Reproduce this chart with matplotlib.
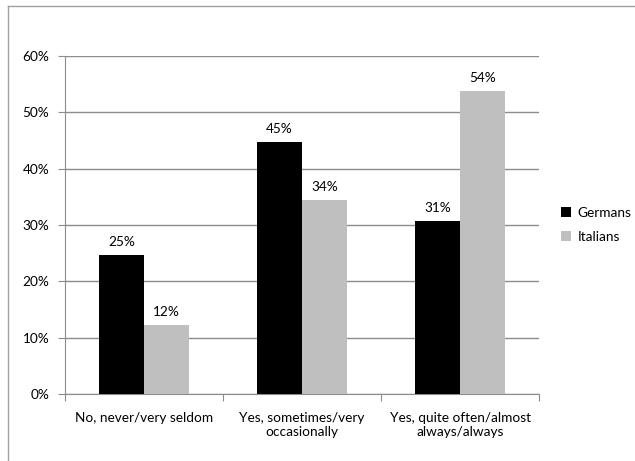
import numpy as np
import matplotlib.pyplot as plt
from matplotlib.lines import Line2D
from matplotlib.ticker import PercentFormatter

plt.rcParams['font.family'] = ['Lato', 'DejaVu Sans']

categories = ['No, never/very seldom', 'Yes, sometimes/very\noccasionally',
              'Yes, quite often/almost\nalways/always']
germans = [0.247, 0.447, 0.307]
italians = [0.122, 0.344, 0.537]
series_names = ['Germans', 'Italians']

grid_col = '#8c8c8c'
fs = 9.8
fig = plt.figure(figsize=(6.35, 4.61), dpi=100)
ax = fig.add_axes([0.102, 0.145, 0.747, 0.734])

x = np.arange(len(categories))
w = 0.285
b1 = ax.bar(x - w / 2, germans, w, color='black', label=series_names[0], zorder=3)
b2 = ax.bar(x + w / 2, italians, w, color='#bfbfbf', label=series_names[1], zorder=3)

for bars in (b1, b2):
    for r in bars:
        v = r.get_height()
        ax.text(r.get_x() + r.get_width() / 2, v + 0.013, '{:.0f}%'.format(v * 100),
                ha='center', va='bottom', fontsize=fs)

ax.set_xlim(-0.5, len(categories) - 0.5)
ax.set_ylim(0, 0.6)
ax.set_yticks(np.arange(0, 0.61, 0.1))
ax.yaxis.set_major_formatter(PercentFormatter(1.0, decimals=0))
ax.yaxis.grid(True, color=grid_col, linewidth=1, zorder=0)
ax.set_axisbelow(True)

# category ticks sit at group boundaries
ax.set_xticks(np.arange(-0.5, len(categories), 1.0))
ax.set_xticklabels([])
ax.set_xticks(x, minor=True)
ax.set_xticklabels(categories, minor=True, fontsize=fs)
ax.tick_params(axis='x', which='minor', length=0, pad=13)
ax.tick_params(axis='x', which='major', length=5, color=grid_col)
ax.tick_params(axis='y', length=5, color=grid_col, labelsize=fs, pad=6)

for s in ('top', 'right'):
    ax.spines[s].set_visible(False)
for s in ('left', 'bottom'):
    ax.spines[s].set_color(grid_col)

ax.legend(loc='center left', bbox_to_anchor=(1.02, 0.5), frameon=False, fontsize=fs,
          handlelength=0.75, handleheight=0.75, labelspacing=0.9, handletextpad=0.5)

# chart border (only left and top edges visible in the crop)
fig.add_artist(Line2D([0.013, 0.013], [0, 0.988], color='#a0a0a0', lw=1,
                      transform=fig.transFigure))
fig.add_artist(Line2D([0.013, 1.0], [0.988, 0.988], color='#a0a0a0', lw=1,
                      transform=fig.transFigure))

fig.savefig('out.png', dpi=100)
